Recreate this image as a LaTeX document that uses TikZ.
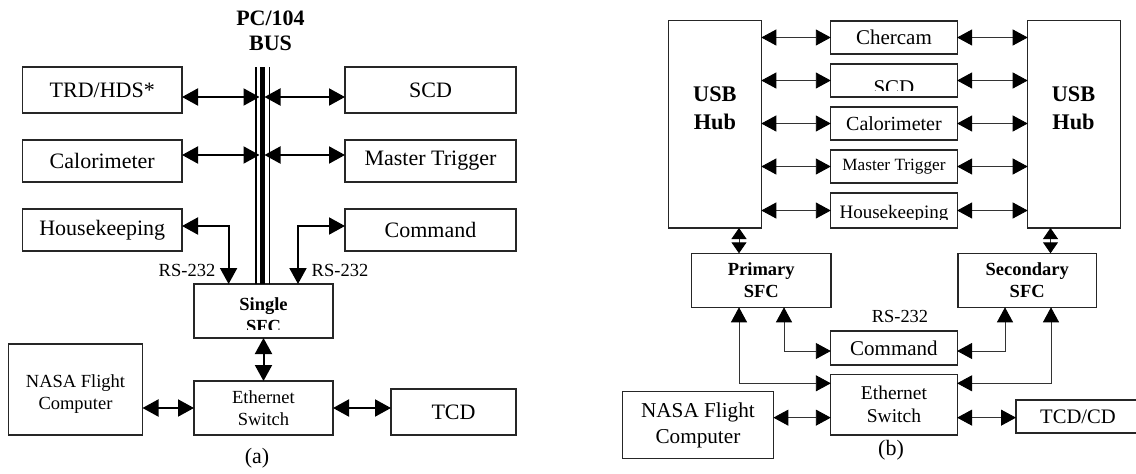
\documentclass[tikz,border=0pt]{standalone}
\usepackage{fontspec}
\setmainfont{Liberation Serif}
\usetikzlibrary{arrows.meta,calc}
\begin{document}
\begin{tikzpicture}[x=1pt,y=-1pt,
  box/.style={draw=black!85, line width=1.2pt, inner sep=0pt, outer sep=0pt, align=center},
  fa/.style={font=\fontsize{22}{26}\selectfont},
  fb/.style={font=\fontsize{18.5}{22}\selectfont},
  fbb/.style={font=\fontsize{18.5}{22}\selectfont\bfseries},
  dblA/.style={line width=2pt, {Triangle[length=16pt,width=17pt]}-{Triangle[length=16pt,width=17pt]}},
  dblB/.style={line width=0.9pt, draw=black!80, {Triangle[length=15pt,width=16pt,color=black]}-{Triangle[length=15pt,width=16pt,color=black]}},
  dblS/.style={line width=0.9pt, draw=black!80, {Triangle[length=11pt,width=15pt,color=black]}-{Triangle[length=11pt,width=15pt,color=black]}},
  mid/.style={box, minimum width=126.3pt, minimum height=33pt}
]
\fill[white] (0,0) rectangle (1136,474);
\useasboundingbox (0,0) rectangle (1136,474);

% ---------------- (a) ----------------
\node[box,fa,minimum width=159.5pt,minimum height=46pt] (trd) at (102.25,90) {TRD/HDS*};
\node[box,fa,minimum width=171pt,minimum height=46pt] (scdA) at (430.5,90) {SCD};
\node[box,fa,minimum width=159.5pt,minimum height=42pt] (calA) at (102.25,161) {Calorimeter};
\node[box,fa,minimum width=171pt,minimum height=42pt] (mtA) at (430.5,161) {Master Trigger};
\node[box,fa,minimum width=159.5pt,minimum height=42pt] (hkA) at (102.25,230) {Housekeeping};
\node[box,fa,minimum width=171pt,minimum height=42pt] (cmdA) at (430.5,230) {Command};
\node[box,minimum width=139pt,minimum height=54pt] (sfcA) at (263.5,311) {};
\begin{scope}
  \clip (sfcA.north west) rectangle ([yshift=8.5pt]sfcA.south east);
  \node[fbb,align=center] (sfcAt) at (263.5,315) {Single\\SFC};
\end{scope}
\node[box,fb,minimum width=139pt,minimum height=54pt] (ethA) at (263.5,408) {Ethernet\\Switch};
\node[box,minimum width=134pt,minimum height=91pt] (nasaA) at (75.5,389.5) {};
\node[fb,align=center] (nasaAt) at (75.5,394) {NASA Flight\\Computer};
\node[box,fa,minimum width=125pt,minimum height=46pt] (tcdA) at (453.5,412) {TCD};

\node[font=\fontsize{22}{25}\selectfont\bfseries,align=center] (pcbus) at (270.5,30.5) {PC/104\\BUS};

\coordinate (bus) at (262,67);
\coordinate (busl) at (259.5,0);
\coordinate (busr) at (264.5,0);
\draw[line width=1.8pt] ([xshift=-6pt]bus) -- ([xshift=-6pt]bus |- sfcA.north);
\draw[line width=5pt] (bus) -- (bus |- sfcA.north);
\draw[line width=1.8pt] ([xshift=7.5pt]bus) -- ([xshift=7.5pt]bus |- sfcA.north);

\draw[dblA] ([yshift=-7pt]trd.east) -- ([yshift=-7pt]trd.east -| busl);
\draw[dblA] ([yshift=-7pt]scdA.west) -- ([yshift=-7pt]scdA.west -| busr);
\draw[dblA] ([yshift=6pt]calA.east) -- ([yshift=6pt]calA.east -| busl);
\draw[dblA] ([yshift=6pt]mtA.west) -- ([yshift=6pt]mtA.west -| busr);

\draw[dblA] ([xshift=-34.9pt]sfcA.north) |- ([yshift=4pt]hkA.east);
\draw[dblA] ([xshift=34.5pt]sfcA.north) |- ([yshift=4pt]cmdA.west);
\node[fb] (rsL) at (187,270) {RS-232};
\node[fb] (rsR) at (340,270) {RS-232};

\draw[dblA] (sfcA.south) -- (ethA.north);
\draw[dblA] (ethA.west) -- (ethA.west -| nasaA.east);
\draw[dblA] (ethA.east) -- (ethA.east -| tcdA.west);
\node[fa] (capA) at (257,458) {(a)};

% ---------------- (b) ----------------
\node[box,minimum width=92.9pt,minimum height=207.3pt] (hubL) at (714.85,124.35) {};
\node[font=\fontsize{22.3}{28}\selectfont\bfseries,align=center] (hubLt) at (714.85,108) {USB\\Hub};
\node[box,minimum width=92.5pt,minimum height=207.3pt] (hubR) at (1073.95,124.35) {};
\node[font=\fontsize{22.3}{28}\selectfont\bfseries,align=center] (hubRt) at (1073.5,108) {USB\\Hub};

\node[mid,font=\fontsize{21}{24}\selectfont] (cher) at (893.95,37.5) {Chercam};
\node[mid] (scdB) at (893.95,80.5) {};
\begin{scope}
  \clip (scdB.north west) rectangle (957,90);
  \node[font=\fontsize{21}{24}\selectfont,anchor=base] (scdBt) at (893.95,94) {SCD};
\end{scope}
\node[mid,font=\fontsize{20}{24}\selectfont] (calB) at (893.95,123.5) {Calorimeter};
\node[mid,font=\fontsize{17.2}{20}\selectfont] (mtB) at (893.95,166.5) {Master Trigger};
\node[mid,minimum height=35pt] (hkB) at (893.95,210.5) {};
\begin{scope}
  \clip (hkB.north west) rectangle (957,219);
  \node[font=\fontsize{19}{22}\selectfont,anchor=base] (hkBt) at (893.95,218.5) {Housekeeping};
\end{scope}

\foreach \b in {cher,scdB,calB,mtB,hkB}{
  \draw[dblB] (hubL.east |- \b) -- (\b.west);
  \draw[dblB] (\b.east) -- (hubR.west |- \b);
}

\node[box,minimum width=139.5pt,minimum height=54pt,font=\fontsize{18.5}{21.6}\selectfont\bfseries] (primB) at (761.25,280.3) {Primary\\SFC};
\node[box,minimum width=138.4pt,minimum height=54pt,font=\fontsize{18.5}{21.6}\selectfont\bfseries] (secB) at (1027.2,280.3) {Secondary\\SFC};

\draw[dblS] ([xshift=-22.25pt]primB.north) -- ([xshift=-22.25pt]primB.north |- hubL.south);
\draw[dblS] ([xshift=23.3pt]secB.north) -- ([xshift=23.3pt]secB.north |- hubR.south);

\node[mid,minimum height=34pt,font=\fontsize{21}{24}\selectfont] (cmdB) at (893.95,348) {Command};
\node[mid,minimum height=60.7pt,font=\fontsize{19.5}{22.7}\selectfont] (ethB) at (893.95,404.65) {Ethernet\\Switch};
\node[box,minimum width=150.9pt,minimum height=67pt,font=\fontsize{21.2}{25.6}\selectfont] (nasaB) at (697.95,425.2) {NASA Flight\\Computer};
\node[box,minimum width=124pt,minimum height=33pt,font=\fontsize{20.6}{24}\selectfont] (tcdB) at (1078,416.5) {TCD/CD};
\node[font=\fontsize{18.4}{22}\selectfont] (rsB) at (900,316) {RS-232};

\draw[dblB] ([xshift=-22.25pt]primB.south) |- ([yshift=21.35pt]ethB.west);
\draw[dblB] ([xshift=22.75pt]primB.south) |- ([yshift=-3pt]cmdB.west);
\draw[dblB] ([xshift=-22.2pt]secB.south) |- ([yshift=-3pt]cmdB.east);
\draw[dblB] ([xshift=23.8pt]secB.south) |- ([yshift=21.35pt]ethB.east);
\draw[dblB] ([yshift=-13pt]ethB.west) -- ([yshift=-13pt]ethB.west -| nasaB.east);
\draw[dblB] ([yshift=-13pt]ethB.east) -- ([yshift=-13pt]ethB.east -| tcdB.west);

\node[font=\fontsize{22}{26}\selectfont] (capB) at (891,450) {(b)};
\end{tikzpicture}
\end{document}
